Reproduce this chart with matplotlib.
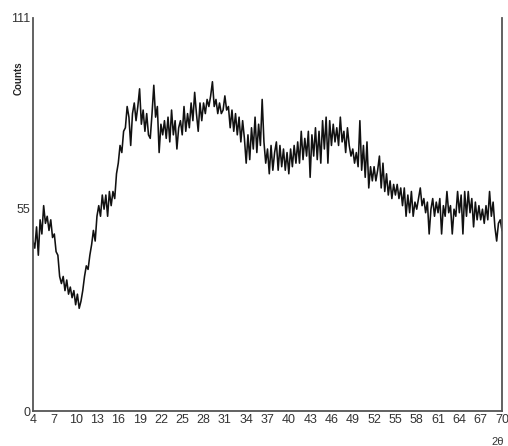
import numpy as np
import matplotlib.pyplot as plt
import matplotlib.transforms as mtransforms

plt.rcParams['font.family'] = ['Liberation Sans', 'DejaVu Sans']

# 2-theta scan grid, 0.25 deg steps from 4 to 70
two_theta = np.arange(4.0, 70.001, 0.25)

# counts, one row per 2 degrees
counts = [
    48, 46, 52, 44, 54, 50, 58, 53,   # 4
    55, 51, 54, 49, 50, 45, 44, 38,   # 6
    36, 38, 34, 37, 33, 35, 32, 34,   # 8
    30, 33, 29, 31, 34, 38, 41, 40,   # 10
    44, 47, 51, 48, 55, 58, 55, 61,   # 12
    57, 61, 55, 62, 58, 62, 60, 67,   # 14
    70, 75, 73, 79, 80, 86, 83, 75,   # 16
    84, 87, 82, 86, 91, 81, 85, 79,   # 18
    84, 78, 77, 84, 92, 83, 86, 73,   # 20
    81, 78, 82, 77, 83, 76, 85, 78,   # 22
    82, 74, 80, 82, 78, 86, 79, 84,   # 24
    80, 87, 82, 90, 84, 79, 87, 82,   # 26
    87, 84, 88, 86, 89, 93, 86, 88,   # 28
    84, 87, 84, 85, 89, 85, 86, 80,   # 30
    85, 79, 84, 78, 83, 76, 82, 77,   # 32
    70, 78, 71, 80, 74, 83, 73, 81,   # 34
    75, 88, 76, 70, 74, 67, 75, 68,   # 36
    73, 76, 68, 75, 69, 74, 68, 73,   # 38
    67, 74, 69, 75, 70, 76, 70, 79,   # 40
    71, 77, 72, 79, 66, 78, 72, 80,   # 42
    71, 79, 70, 82, 74, 83, 70, 82,   # 44
    75, 81, 76, 80, 75, 83, 76, 79,   # 46
    73, 80, 75, 72, 74, 70, 73, 69,   # 48
    82, 68, 75, 66, 76, 63, 69, 65,   # 50
    69, 65, 68, 72, 63, 70, 62, 67,   # 52
    61, 65, 60, 64, 61, 64, 60, 63,   # 54
    58, 63, 55, 61, 56, 62, 55, 59,   # 56
    57, 60, 63, 58, 60, 56, 59, 50,   # 58
    57, 60, 55, 59, 56, 60, 50, 58,   # 60
    55, 62, 56, 58, 50, 57, 55, 62,   # 62
    56, 61, 50, 62, 55, 62, 56, 60,   # 64
    52, 59, 54, 58, 54, 57, 53, 58,   # 66
    54, 62, 55, 59, 52, 48, 53, 54,   # 68
    51,                               # 70
]

xticks = list(range(4, 71, 3))
yticks = [0, 55, 111]

fig = plt.figure(figsize=(5.08, 4.46), dpi=100)
ax = fig.add_axes([33 / 508, 35 / 446, 469 / 508, 393 / 446])

ax.plot(two_theta, counts, color='#111111', lw=1.15)

ax.set_xlim(4, 70)
ax.set_ylim(0, 111)
ax.set_xticks(xticks)
ax.set_yticks(yticks)
ax.tick_params(length=0, labelsize=9, labelcolor='#333333', pad=2)

# the '55' label sits a little above its level in the original
lab = ax.get_yticklabels()[1]
lab.set_transform(lab.get_transform() +
                  mtransforms.ScaledTranslation(0, 8 / 100, fig.dpi_scale_trans))

ax.spines['top'].set_visible(False)
for side in ['left', 'right', 'bottom']:
    ax.spines[side].set_color('#555555')
    ax.spines[side].set_linewidth(1.3)

fig.text(19 / 508, 1 - 78 / 446, 'Counts', rotation=90, ha='center',
         va='center', fontsize=7, fontweight='bold', color='#222222')
fig.text(498 / 508, 1 - 442 / 446, '2θ', ha='center', va='center',
         fontsize=8, color='#333333')

fig.savefig('out.png', dpi=100)
